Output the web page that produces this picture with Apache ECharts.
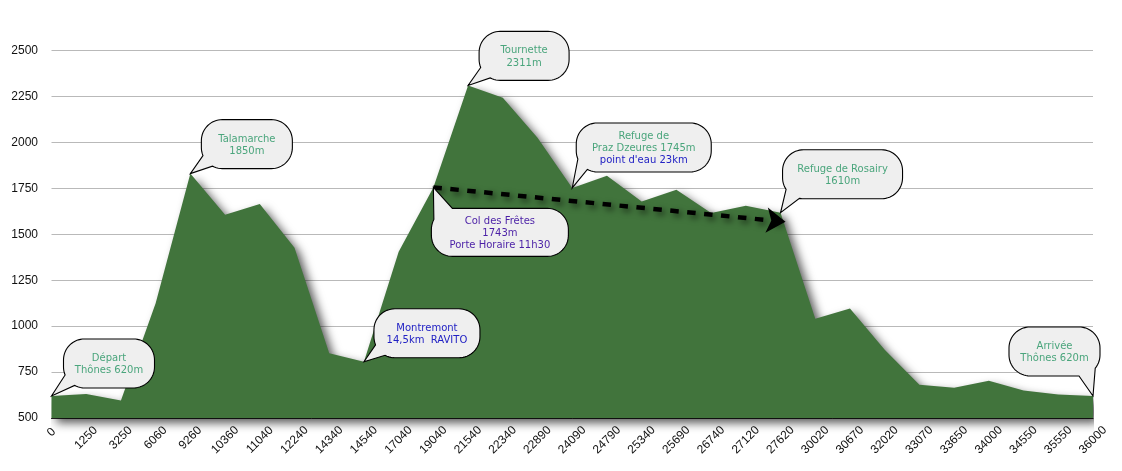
<!DOCTYPE html>
<html>
<head>
<meta charset="utf-8">
<style>html,body{margin:0;padding:0;background:#fff}#chart{width:1122px;height:471px}</style>
<script src="https://cdn.jsdelivr.net/npm/echarts@6/dist/echarts.min.js"></script>
</head>
<body>
<div id="chart"></div>
<script>
// distance (m) and elevation (m)
const distances = ['0','1250','3250','6060','9260','10360','11040','12240','14340','14540','17040','19040','21540','22340','22890','24090','24790','25340','25690','26740','27120','27620','30020','30670','32020','33070','33650','34000','34550','35550','36000'];
const elevations = [620,630,595,1125,1830,1606,1664,1427,853,806,1405,1755,2310,2243,2025,1752,1818,1678,1742,1615,1655,1617,1040,1096,872,681,665,703,650,628,620];

// callouts
const calloutDistances = ['0','9260','14540','19040','21540','24090','27620','36000'];
const calloutTexts = [
  ['Départ','Thônes 620m'],
  ['Talamarche','1850m'],
  ['Montremont','14,5km  RAVITO'],
  ['Col des Frêtes','1743m','Porte Horaire 11h30'],
  ['Tournette','2311m'],
  ['Refuge de','Praz Dzeures 1745m',"point d'eau 23km"],
  ['Refuge de Rosairy','1610m'],
  ['Arrivée','Thônes 620m']
];

// arrow from the col to the refuge
const arrowFrom = ['19040',1755];
const arrowTo = ['27620',1570];

const GREEN = '#4aa57c', BLUE = '#2222c4', PURPLE = '#4a1fa6';
const calloutColors = [
  [GREEN,GREEN],[GREEN,GREEN],[BLUE,BLUE],[PURPLE,PURPLE,PURPLE],
  [GREEN,GREEN],[GREEN,GREEN,BLUE],[GREEN,GREEN],[GREEN,GREEN]
];
// box offset from the tip of the tail, box size, part of the corner the tail replaces
const calloutBoxes = [
  {dx:12,dy:-57,w:91,h:49,corner:'bl',cut:[.33,.69]},
  {dx:11,dy:-54,w:91,h:49,corner:'bl',cut:[.33,.69]},
  {dx:10,dy:-53,w:106,h:49,corner:'bl',cut:[.33,.69]},
  {dx:-2,dy:21,w:137,h:48,corner:'tl',cut:[.35,1]},
  {dx:11,dy:-54,w:90,h:49,corner:'bl',cut:[.33,.69]},
  {dx:4,dy:-65,w:135,h:49,corner:'bl',cut:[.33,.69]},
  {dx:2,dy:-63,w:120,h:49,corner:'bl',cut:[.16,.6]},
  {dx:-84,dy:-69,w:91,h:49,corner:'br',cut:[.45,1]}
];

// rounded box outline, walking clockwise, with the tail replacing part of one corner
function bubblePoints(x,y,w,h,r,box,tip){
  const corners = [
    {id:'tl',cx:x+r,cy:y+r,a:Math.PI},
    {id:'tr',cx:x+w-r,cy:y+r,a:Math.PI*1.5},
    {id:'br',cx:x+w-r,cy:y+h-r,a:0},
    {id:'bl',cx:x+r,cy:y+h-r,a:Math.PI/2}
  ];
  const pts = [];
  corners.forEach(c=>{
    let tipDone = false;
    for(let s=0;s<=16;s++){
      const f = s/16;
      if(c.id===box.corner && f>box.cut[0] && f<box.cut[1]){
        if(!tipDone){pts.push(tip);tipDone=true;}
        continue;
      }
      const a = c.a+f*Math.PI/2;
      pts.push([c.cx+r*Math.cos(a),c.cy+r*Math.sin(a)]);
    }
  });
  return pts;
}

function renderCallout(params,api){
  const i = params.dataIndex;
  const tip = api.coord([api.value(0),api.value(1)]);
  const box = calloutBoxes[i], lines = calloutTexts[i];
  const x = tip[0]+box.dx, y = tip[1]+box.dy;
  const children = [{
    type:'polygon',
    shape:{points:bubblePoints(x,y,box.w,box.h,21,box,tip)},
    style:{fill:'#efefef',stroke:'#000',lineWidth:1.1}
  }];
  lines.forEach((line,k)=>{
    children.push({
      type:'text',
      style:{
        text:line,
        x:x+box.w/2,
        y:y+box.h/2+1+(k-(lines.length-1)/2)*12.4,
        fill:calloutColors[i][k],
        font:'10px "DejaVu Sans"',
        align:'center',
        verticalAlign:'middle'
      }
    });
  });
  return {type:'group',children:children};
}

// shorter labels sit higher: their tops line up under the axis
function xLabel(value){
  return '{d' + value.length + '|' + value + '}';
}
const xLabelBase = {fontFamily:'"Liberation Sans"',fontSize:12,color:'#111'};

const chart = echarts.init(document.getElementById('chart'),null,{renderer:'canvas'});
chart.setOption({
  animation:false,
  backgroundColor:'#fff',
  grid:{left:51.5,right:29,top:50.5,bottom:53},
  xAxis:{
    type:'category',
    data:distances,
    boundaryGap:false,
    axisTick:{show:false},
    axisLine:{lineStyle:{color:'#222',width:1}},
    axisLabel:{
      interval:0,rotate:45,margin:22,align:'center',verticalAlign:'middle',
      formatter:xLabel,
      rich:{
        d1:{...xLabelBase,padding:[0,0,11,11]},
        d4:{...xLabelBase,padding:[0,0,3,3]},
        d5:{...xLabelBase}
      }
    },
    splitLine:{show:false}
  },
  yAxis:{
    type:'value',
    min:500,max:2500,interval:250,
    axisLine:{show:false},
    axisTick:{show:false},
    axisLabel:{margin:13.5,color:'#111',fontFamily:'"Liberation Sans"',fontSize:12,formatter:v=>String(v)},
    splitLine:{lineStyle:{color:'#b9b9b9',width:1.2}}
  },
  series:[
    {
      type:'line',
      data:elevations,
      symbol:'none',
      clip:false,
      silent:true,
      lineStyle:{width:0},
      areaStyle:{
        color:'#41743c',opacity:1,origin:'start',
        shadowColor:'rgba(0,0,0,0.65)',shadowBlur:10,shadowOffsetX:5,shadowOffsetY:5
      },
      markLine:{
        silent:true,
        symbol:['none','arrow'],
        symbolSize:19,
        symbolOffset:[0,[0,-5]],
        label:{show:false},
        lineStyle:{
          color:'#000',width:4.5,type:[8.5,8.5],opacity:1,
          shadowColor:'rgba(0,0,0,0.6)',shadowBlur:6,shadowOffsetX:3,shadowOffsetY:3
        },
        data:[[{coord:arrowFrom},{coord:arrowTo}]]
      }
    },
    {
      type:'custom',
      z:5,
      silent:true,
      clip:false,
      renderItem:renderCallout,
      data:calloutDistances.map(d=>[distances.indexOf(d),elevations[distances.indexOf(d)]]),
      encode:{x:0,y:1}
    }
  ]
});
</script>
</body>
</html>
